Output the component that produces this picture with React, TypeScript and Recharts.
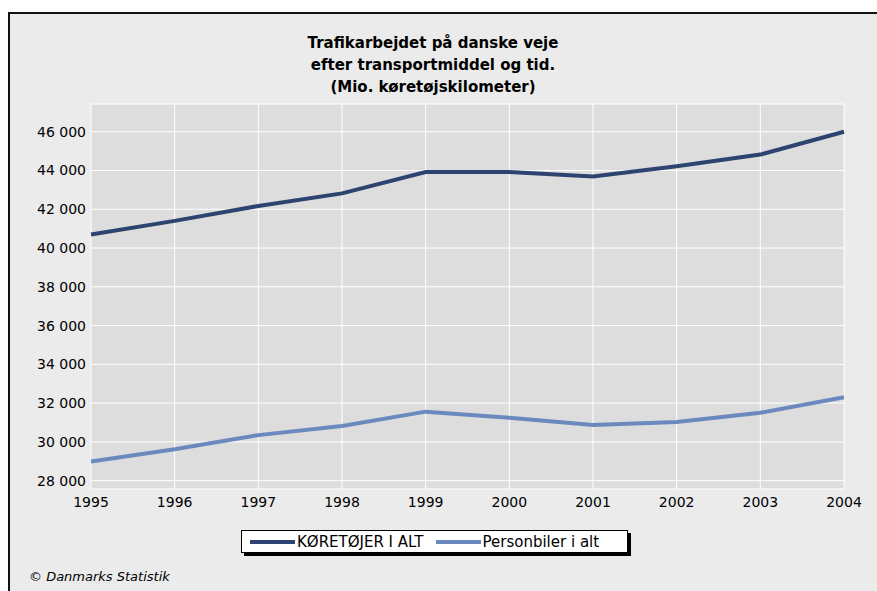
import React from 'react';
import { LineChart, Line, XAxis, YAxis, CartesianGrid } from 'recharts';

const years = [1995, 1996, 1997, 1998, 1999, 2000, 2001, 2002, 2003, 2004];
const koretojer = [40700, 41400, 42170, 42820, 43920, 43920, 43690, 44220, 44820, 46000];
const personbiler = [28990, 29620, 30350, 30820, 31560, 31250, 30870, 31030, 31500, 32300];
const yTicks = [28000, 30000, 32000, 34000, 36000, 38000, 40000, 42000, 44000, 46000];
const titleLines = ['Trafikarbejdet på danske veje', 'efter transportmiddel og tid.', '(Mio. køretøjskilometer)'];

const SERIES = [
  { key: 'koretojer', name: 'KØRETØJER I ALT', color: '#2e4470' },
  { key: 'personbiler', name: 'Personbiler i alt', color: '#6c89bf' },
];

const data = years.map((year, i) => ({ year, koretojer: koretojer[i], personbiler: personbiler[i] }));

const FONT = '"DejaVu Sans", Arial, sans-serif';

const fmt = (v: number) => {
  const s = String(Math.round(v));
  return s.length > 3 ? `${s.slice(0, s.length - 3)} ${s.slice(-3)}` : s;
};

// legend box drawn outside the svg so it doesn't shrink the plot area
const BoxLegend = () => (
  <div
    style={{
      position: 'absolute',
      left: 241,
      top: 530,
      display: 'flex',
      alignItems: 'center',
      background: '#fff',
      border: '1px solid #000',
      boxShadow: '3px 3px 0 #000',
      height: 21,
      width: 377,
      paddingLeft: 8,
      fontFamily: FONT,
      fontSize: 15,
      color: '#000',
    }}
  >
    {SERIES.map((s, i) => (
      <div key={s.key} style={{ display: 'flex', alignItems: 'center', marginRight: i === 0 ? 12 : 0 }}>
        <span style={{ display: 'inline-block', width: 45, height: 4, background: s.color, marginRight: 2 }} />
        <span style={{ whiteSpace: 'nowrap' }}>{s.name}</span>
      </div>
    ))}
  </div>
);

export default function App() {
  return (
    <div style={{ position: 'absolute', left: 0, top: 0, width: 877, height: 591, overflow: 'hidden', background: '#fff' }}>
      <div
        style={{
          position: 'absolute',
          left: 8,
          top: 12,
          width: 900,
          height: 620,
          border: '2px solid #111',
          background: '#ebebeb',
        }}
      />
      <div
        style={{
          position: 'absolute',
          left: 233,
          top: 32,
          width: 400,
          textAlign: 'center',
          fontFamily: FONT,
          fontWeight: 'bold',
          fontSize: 15,
          lineHeight: '22px',
          color: '#000',
        }}
      >
        {titleLines.map((t) => (
          <div key={t}>{t}</div>
        ))}
      </div>
      <div style={{ position: 'absolute', left: 0, top: 0 }}>
        <LineChart width={877} height={591} data={data} margin={{ top: 104, right: 33, bottom: 72, left: 11 }}>
          <CartesianGrid stroke="#ffffff" strokeWidth={1} fill="#dddddd" />
          <XAxis
            dataKey="year"
            type="number"
            domain={[1995, 2004]}
            ticks={years}
            axisLine={false}
            tickLine={false}
            height={30}
            tick={{ fill: '#000', fontSize: 14, fontFamily: FONT }}
          />
          <YAxis
            type="number"
            domain={[27570, 47430]}
            ticks={yTicks}
            width={80}
            axisLine={false}
            tickLine={false}
            tickSize={3}
            tickMargin={2}
            tickFormatter={fmt}
            tick={{ fill: '#000', fontSize: 14, fontFamily: FONT }}
          />
          {SERIES.map((s) => (
            <Line
              key={s.key}
              type="linear"
              dataKey={s.key}
              name={s.name}
              stroke={s.color}
              strokeWidth={4}
              dot={false}
              activeDot={false}
              isAnimationActive={false}
            />
          ))}
        </LineChart>
      </div>
      <BoxLegend />
      <div
        style={{
          position: 'absolute',
          left: 29,
          top: 569,
          fontFamily: FONT,
          fontStyle: 'italic',
          fontSize: 13,
          color: '#000',
        }}
      >
        © Danmarks Statistik
      </div>
    </div>
  );
}
